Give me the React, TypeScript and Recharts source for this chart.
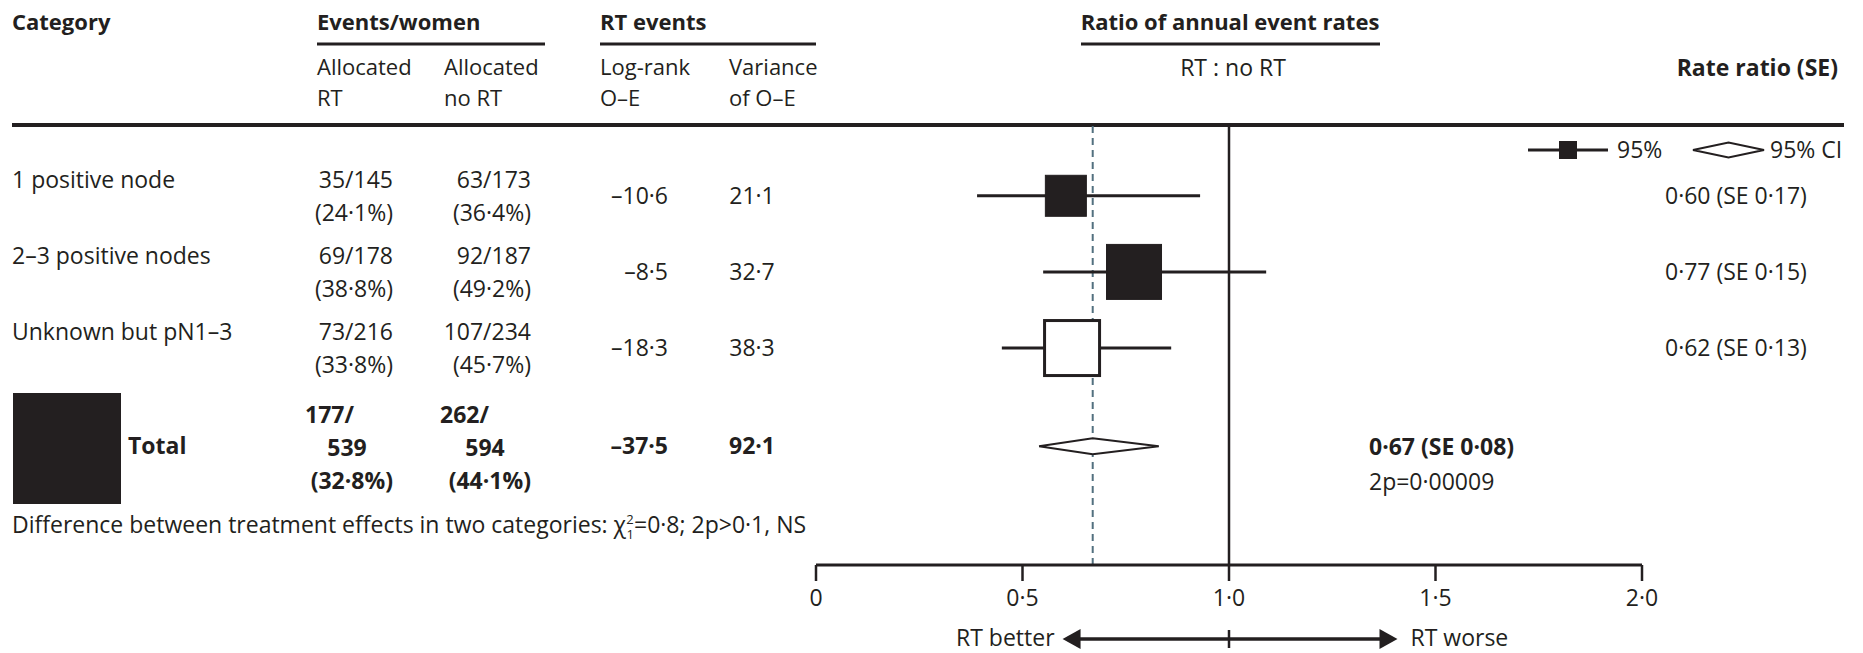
import React from 'react';
import {
  ComposedChart,
  XAxis,
  YAxis,
  Scatter,
  ReferenceLine,
  Customized,
} from 'recharts';

// ---------- data ----------
const categories = ['1 positive node', '2–3 positive nodes', 'Unknown but pN1–3'];
const rtEvents = [35, 69, 73];
const rtWomen = [145, 178, 216];
const rtPct = ['24·1', '38·8', '33·8'];
const noRtEvents = [63, 92, 107];
const noRtWomen = [173, 187, 234];
const noRtPct = ['36·4', '49·2', '45·7'];
const logRankOE = ['–10·6', '–8·5', '–18·3'];
const varianceOE = ['21·1', '32·7', '38·3'];
const rateRatio = [0.605, 0.77, 0.62];
const ciLow = [0.39, 0.55, 0.45];
const ciHigh = [0.93, 1.09, 0.86];
const rateRatioLabels = ['0·60 (SE 0·17)', '0·77  (SE 0·15)', '0·62 (SE 0·13)'];

const totalRtEvents = 177;
const totalRtWomen = 539;
const totalRtPct = '32·8';
const totalNoRtEvents = 262;
const totalNoRtWomen = 594;
const totalNoRtPct = '44·1';
const totalLogRank = '–37·5';
const totalVariance = '92·1';
const totalEst = 0.67;
const totalLow = 0.54;
const totalHigh = 0.83;
const totalLabel = '0·67 (SE 0·08)';
const totalP = '2p=0·00009';

const xTicks = [0, 0.5, 1, 1.5, 2];
const xTickLabels = ['0', '0·5', '1·0', '1·5', '2·0'];

// ---------- layout / style ----------
const W = 1863;
const H = 653;
const INK = '#231f20';
const DASH = '#52707f';
const FONT = "'Open Sans', 'Noto Sans', sans-serif";
const FS = 23;
const HFS = 22;
const MARGIN = { top: 125, right: 221, bottom: 38, left: 816 };
const Y_DOMAIN: [number, number] = [0.07, 5.85];
const ROW_POS = [1, 2, 3];
const TOTAL_POS = 4.29;
const BOX_PX = [41, 55, 55];
const BOX_FILLED = [true, true, false];
const DIAMOND_HALF = 0.105; // in row units

// pixel helpers for text layout (same geometry as the chart margins)
const plotH = H - MARGIN.top - MARGIN.bottom - 50;
const rowY = (v: number) => MARGIN.top + ((v - Y_DOMAIN[0]) / (Y_DOMAIN[1] - Y_DOMAIN[0])) * plotH;
const plotW = W - MARGIN.left - MARGIN.right;
const px = (v: number) => MARGIN.left + (v / 2) * plotW;

const boxData = rateRatio.map((v, i) => ({ x: v, y: ROW_POS[i], i }));
const diamondData = [
  { x: totalLow, y: TOTAL_POS },
  { x: totalEst, y: TOTAL_POS - DIAMOND_HALF },
  { x: totalHigh, y: TOTAL_POS },
  { x: totalEst, y: TOTAL_POS + DIAMOND_HALF },
  { x: totalLow, y: TOTAL_POS },
];

type TP = {
  x: number;
  y: number;
  children: React.ReactNode;
  anchor?: 'start' | 'middle' | 'end';
  bold?: boolean;
  size?: number;
};
function T({ x, y, children, anchor = 'start', bold = false, size = FS }: TP) {
  return (
    <text
      x={x}
      y={y + size * 0.36}
      textAnchor={anchor}
      fontFamily={FONT}
      fontSize={size}
      fontWeight={bold ? 700 : 400}
      fill={INK}
    >
      {children}
    </text>
  );
}

function BoxShape(props: any) {
  const { cx, cy, payload } = props;
  const i = payload.i;
  const s = BOX_PX[i];
  const filled = BOX_FILLED[i];
  return (
    <rect
      x={cx - s / 2}
      y={cy - s / 2}
      width={s}
      height={s}
      fill={filled ? INK : '#ffffff'}
      stroke={INK}
      strokeWidth={filled ? 1 : 3}
    />
  );
}

function TableLayer() {
  const line1 = -16;
  const line2 = 17;
  const h1 = 67;
  const h2 = 98;
  return (
    <g>
      {/* headers */}
      <T x={12} y={22} bold size={HFS}>Category</T>
      <T x={317} y={22} bold size={HFS}>Events/women</T>
      <T x={600} y={22} bold size={HFS}>RT events</T>
      <T x={1230} y={22} anchor="middle" bold size={HFS}>Ratio of annual event rates</T>
      <line x1={317} x2={545} y1={44} y2={44} stroke={INK} strokeWidth={3} />
      <line x1={600} x2={816} y1={44} y2={44} stroke={INK} strokeWidth={3} />
      <line x1={1081} x2={1380} y1={44} y2={44} stroke={INK} strokeWidth={3} />

      <T x={317} y={h1} size={HFS}>Allocated</T>
      <T x={317} y={h2} size={HFS}>RT</T>
      <T x={444} y={h1} size={HFS}>Allocated</T>
      <T x={444} y={h2} size={HFS}>no RT</T>
      <T x={600} y={h1} size={HFS}>Log-rank</T>
      <T x={600} y={h2} size={HFS}>O–E</T>
      <T x={729} y={h1} size={HFS}>Variance</T>
      <T x={729} y={h2} size={HFS}>of O–E</T>
      <T x={1233} y={68} anchor="middle">RT : no RT</T>
      <T x={1838} y={68} anchor="end" bold>Rate ratio (SE)</T>

      <line x1={12} x2={1844} y1={125} y2={125} stroke={INK} strokeWidth={4} />

      {/* legend */}
      <line x1={1528} x2={1608} y1={150} y2={150} stroke={INK} strokeWidth={3} />
      <rect x={1559} y={141} width={18} height={18} fill={INK} />
      <T x={1617} y={150}>95%</T>
      <polygon
        points="1693,150 1728.5,142.5 1764,150 1728.5,157.5"
        fill="#fff"
        stroke={INK}
        strokeWidth={2}
      />
      <T x={1770} y={150}>95% CI</T>

      {/* category rows */}
      {categories.map((c, i) => {
        const y = rowY(ROW_POS[i]);
        return (
          <g key={c}>
            <T x={12} y={y + line1}>{c}</T>
            <T x={393} y={y + line1} anchor="end">{`${rtEvents[i]}/${rtWomen[i]}`}</T>
            <T x={393} y={y + line2} anchor="end">{`(${rtPct[i]}%)`}</T>
            <T x={531} y={y + line1} anchor="end">{`${noRtEvents[i]}/${noRtWomen[i]}`}</T>
            <T x={531} y={y + line2} anchor="end">{`(${noRtPct[i]}%)`}</T>
            <T x={668} y={y} anchor="end">{logRankOE[i]}</T>
            <T x={752} y={y} anchor="middle">{varianceOE[i]}</T>
            <T x={1665} y={y}>{rateRatioLabels[i]}</T>
          </g>
        );
      })}

      {/* total row */}
      <rect x={13} y={393} width={108} height={111} fill={INK} />
      <T x={128} y={446} bold>Total</T>
      <T x={305} y={415} bold>{`${totalRtEvents}/`}</T>
      <T x={347} y={448} anchor="middle" bold>{`${totalRtWomen}`}</T>
      <T x={393} y={481} anchor="end" bold>{`(${totalRtPct}%)`}</T>
      <T x={440} y={415} bold>{`${totalNoRtEvents}/`}</T>
      <T x={485} y={448} anchor="middle" bold>{`${totalNoRtWomen}`}</T>
      <T x={531} y={481} anchor="end" bold>{`(${totalNoRtPct}%)`}</T>
      <T x={668} y={446} anchor="end" bold>{totalLogRank}</T>
      <T x={752} y={446} anchor="middle" bold>{totalVariance}</T>
      <T x={1369} y={447} bold>{totalLabel}</T>
      <T x={1369} y={482}>{totalP}</T>

      {/* heterogeneity */}
      <text x={12} y={525 + FS * 0.36} fontFamily={FONT} fontSize={FS} fill={INK}>
        Difference between treatment effects in two categories: χ
        <tspan fontSize={13} dy={-9}>2</tspan>
        <tspan fontSize={13} dx={-7} dy={15}>1</tspan>
        <tspan dy={-6}>=0·8; 2p&gt;0·1, NS</tspan>
      </text>

      {/* RT better / worse arrow */}
      <line x1={px(0.6) + 14} x2={px(1.405) - 14} y1={639} y2={639} stroke={INK} strokeWidth={3.5} />
      <polygon
        points={`${px(0.597)},639 ${px(0.597) + 18},629 ${px(0.597) + 18},649`}
        fill={INK}
      />
      <polygon
        points={`${px(1.408)},639 ${px(1.408) - 18},629 ${px(1.408) - 18},649`}
        fill={INK}
      />
      <line x1={px(1)} x2={px(1)} y1={630} y2={648} stroke={INK} strokeWidth={2.5} />
      <T x={px(0.597) - 8} y={638} anchor="end">RT better</T>
      <T x={px(1.408) + 13} y={638}>RT worse</T>
    </g>
  );
}

export default function App() {
  return (
    <div style={{ width: W, height: H, background: '#fff' }}>
      <style>{'body{margin:0;background:#fff}'}</style>
      <ComposedChart width={W} height={H} margin={MARGIN}>
        <XAxis
          type="number"
          dataKey="x"
          domain={[0, 2]}
          ticks={xTicks}
          interval={0}
          tickFormatter={(v: number) => xTickLabels[xTicks.indexOf(v)] ?? String(v)}
          height={50}
          tickSize={16}
          tickMargin={9}
          axisLine={{ stroke: INK, strokeWidth: 3 }}
          tickLine={{ stroke: INK, strokeWidth: 2.5 }}
          tick={{ fill: INK, fontSize: FS, fontFamily: FONT }}
          allowDataOverflow
        />
        <YAxis type="number" dataKey="y" domain={Y_DOMAIN} reversed hide width={0} allowDataOverflow />
        <ReferenceLine x={1} stroke={INK} strokeWidth={2.5} />
        <ReferenceLine x={totalEst} stroke={DASH} strokeWidth={2} strokeDasharray="7 5" />
        {rateRatio.map((_, i) => (
          <ReferenceLine
            key={i}
            segment={[
              { x: ciLow[i], y: ROW_POS[i] },
              { x: ciHigh[i], y: ROW_POS[i] },
            ]}
            stroke={INK}
            strokeWidth={3}
          />
        ))}
        <Scatter data={boxData} shape={BoxShape} isAnimationActive={false} />
        <Scatter
          data={diamondData}
          line={{ stroke: INK, strokeWidth: 2, fill: '#ffffff' }}
          lineType="joint"
          shape={() => <g />}
          isAnimationActive={false}
        />
        <Customized component={TableLayer} />
      </ComposedChart>
    </div>
  );
}
